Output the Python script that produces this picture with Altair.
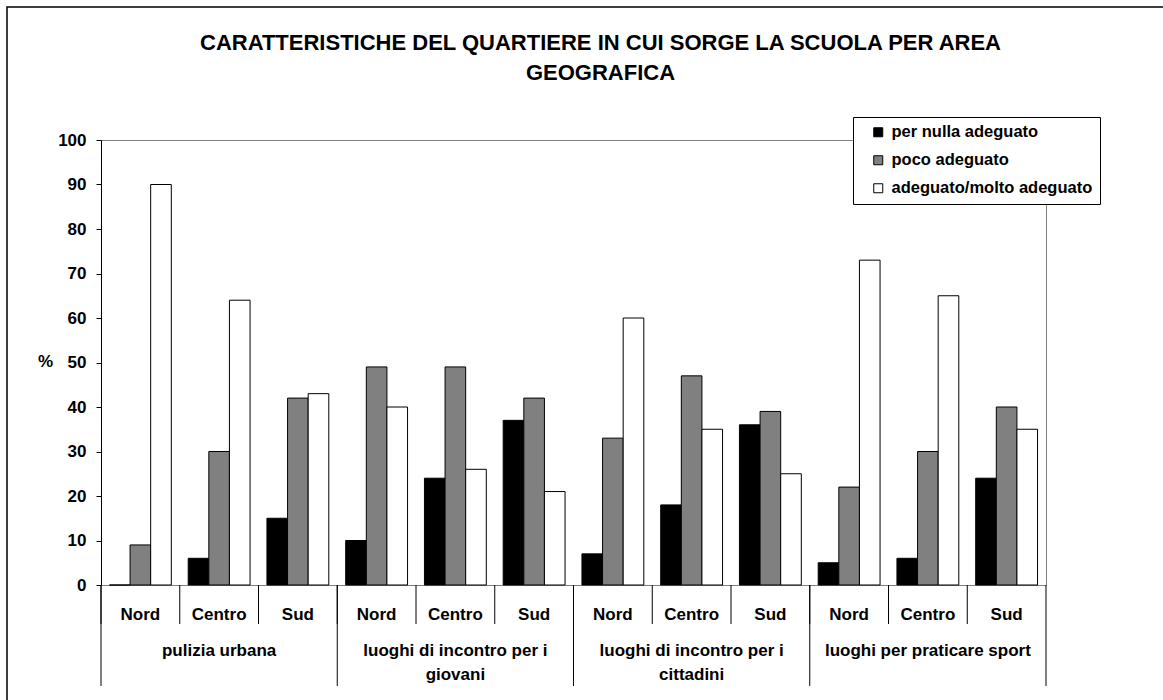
import altair as alt
import pandas as pd

# Neighbourhood features around the school, by geographic area (%)
categories = [
    "pulizia urbana",
    "luoghi di incontro per i giovani",
    "luoghi di incontro per i cittadini",
    "luoghi per praticare sport",
]
category_labels = [
    "pulizia urbana",
    "luoghi di incontro per i\ngiovani",
    "luoghi di incontro per i\ncittadini",
    "luoghi per praticare sport",
]
areas = ["Nord", "Centro", "Sud"]
series = ["per nulla adeguato", "poco adeguato", "adeguato/molto adeguato"]
series_colors = ["#000000", "#808080", "#ffffff"]

# one value per (category, area), in the order of categories x areas
per_nulla_adeguato = [0, 6, 15, 10, 24, 37, 7, 18, 36, 5, 6, 24]
poco_adeguato = [9, 30, 42, 49, 49, 42, 33, 47, 39, 22, 30, 40]
adeguato_molto = [90, 64, 43, 40, 26, 21, 60, 35, 25, 73, 65, 35]

FONT = "Liberation Sans"
LABEL_SIZE = 17
W, H = 945, 445

slots = [f"{c}|{a}" for c in categories for a in areas]
values_by_series = [per_nulla_adeguato, poco_adeguato, adeguato_molto]

bars = pd.DataFrame(
    [
        {"slot": slot, "serie": s, "ordine": si, "valore": vals[i]}
        for si, (s, vals) in enumerate(zip(series, values_by_series))
        for i, slot in enumerate(slots)
    ]
)

area_df = pd.DataFrame(
    [{"slot": f"{c}|{a}", "area": a} for c in categories for a in areas]
)
cat_start_df = pd.DataFrame([{"slot": f"{c}|{areas[0]}"} for c in categories])
cat_end_df = pd.DataFrame([{"slot": slots[-1]}])
cat_label_df = pd.DataFrame(
    [{"slot": f"{c}|{areas[1]}", "etichetta": lab} for c, lab in zip(categories, category_labels)]
)

x_scale = alt.Scale(domain=slots, paddingInner=0, paddingOuter=0)

bar_layer = (
    alt.Chart(bars)
    .mark_bar(stroke="#000000", strokeWidth=1)
    .encode(
        x=alt.X(
            "slot:N",
            scale=x_scale,
            sort=slots,
            axis=alt.Axis(labels=False, ticks=False, title=None, domain=True,
                          domainColor="#000000", domainWidth=1),
        ),
        xOffset=alt.XOffset(
            "serie:N",
            sort=series,
            scale=alt.Scale(domain=series, paddingInner=0, paddingOuter=0.41),
        ),
        y=alt.Y(
            "valore:Q",
            scale=alt.Scale(domain=[0, 100], nice=False),
            axis=alt.Axis(
                values=list(range(0, 101, 10)),
                title="%",
                titleAngle=0,
                titleAlign="center",
                titleBaseline="middle",
                titleX=-56,
                titleY=221,
                titleFont=FONT,
                titleFontSize=LABEL_SIZE,
                titleFontWeight="bold",
                titleColor="#000000",
                labelFont=FONT,
                labelFontSize=LABEL_SIZE,
                labelFontWeight="bold",
                labelColor="#000000",
                labelPadding=10,
                tickSize=5,
                tickColor="#000000",
                domainColor="#000000",
                grid=False,
            ),
        ),
        fill=alt.Fill(
            "serie:N",
            scale=alt.Scale(domain=series, range=series_colors),
            sort=series,
            legend=alt.Legend(
                title=None,
                orient="none",
                legendX=752,
                legendY=-23,
                symbolType="square",
                symbolSize=81,
                symbolStrokeColor="#000000",
                symbolStrokeWidth=1,
                symbolOffset=10,
                labelFont=FONT,
                labelFontSize=16.5,
                labelFontWeight="bold",
                labelColor="#000000",
                labelLimit=400,
                labelOffset=5,
                rowPadding=11,
                padding=7,
                strokeColor="#000000",
                fillColor="#ffffff",
            ),
        ),
        order=alt.Order("ordine:Q"),
    )
)

# short separators between areas, long ones between categories
area_sep = alt.Chart(area_df).mark_rule(color="#000000", strokeWidth=1).encode(
    x=alt.X("slot:N", scale=x_scale, sort=slots, axis=None, bandPosition=0),
    y=alt.value(H),
    y2=alt.value(H + 39),
)
cat_sep = alt.Chart(cat_start_df).mark_rule(color="#000000", strokeWidth=1).encode(
    x=alt.X("slot:N", scale=x_scale, sort=slots, axis=None, bandPosition=0),
    y=alt.value(H),
    y2=alt.value(H + 101),
)
cat_end = alt.Chart(cat_end_df).mark_rule(color="#000000", strokeWidth=1).encode(
    x=alt.X("slot:N", scale=x_scale, sort=slots, axis=None, bandPosition=1),
    y=alt.value(H),
    y2=alt.value(H + 101),
)

area_text = alt.Chart(area_df).mark_text(
    font=FONT, fontSize=LABEL_SIZE, fontWeight="bold", color="#000000",
    align="center", baseline="alphabetic",
).encode(
    x=alt.X("slot:N", scale=x_scale, sort=slots, axis=None, bandPosition=0.5),
    y=alt.value(H + 35),
    text="area:N",
)

cat_text = alt.Chart(cat_label_df).mark_text(
    font=FONT, fontSize=LABEL_SIZE, fontWeight="bold", color="#000000",
    align="center", baseline="alphabetic", lineBreak="\n", lineHeight=24,
).encode(
    x=alt.X("slot:N", scale=x_scale, sort=slots, axis=None, bandPosition=0.5),
    y=alt.value(H + 71),
    text="etichetta:N",
)

# outer frame of the whole figure
frame = alt.Chart(alt.Data(values=[{}])).mark_rect(
    fill=None, stroke="#000000", strokeWidth=1.5
).encode(
    x=alt.value(-94),
    x2=alt.value(W + 200),
    y=alt.value(-133),
    y2=alt.value(H + 200),
)

chart = (
    alt.layer(frame, bar_layer, area_sep, cat_sep, cat_end, area_text, cat_text)
    .properties(
        width=W,
        height=H,
        title=alt.Title(
            text=["CARATTERISTICHE DEL QUARTIERE IN CUI SORGE LA SCUOLA PER AREA",
                  "GEOGRAFICA"],
            font=FONT,
            fontSize=22,
            fontWeight="bold",
            color="#000000",
            anchor="middle",
            frame="group",
            baseline="alphabetic",
            lineHeight=30,
            offset=0,
            dx=27,
            dy=96,
        ),
        autosize=alt.AutoSizeParams(type="none"),
        padding={"left": 101, "top": 140, "right": 117, "bottom": 115},
        background="#ffffff",
    )
    .configure_view(stroke="#808080", strokeWidth=1)
)

chart.save("out.html", embed_options={"renderer": "svg", "actions": False})
